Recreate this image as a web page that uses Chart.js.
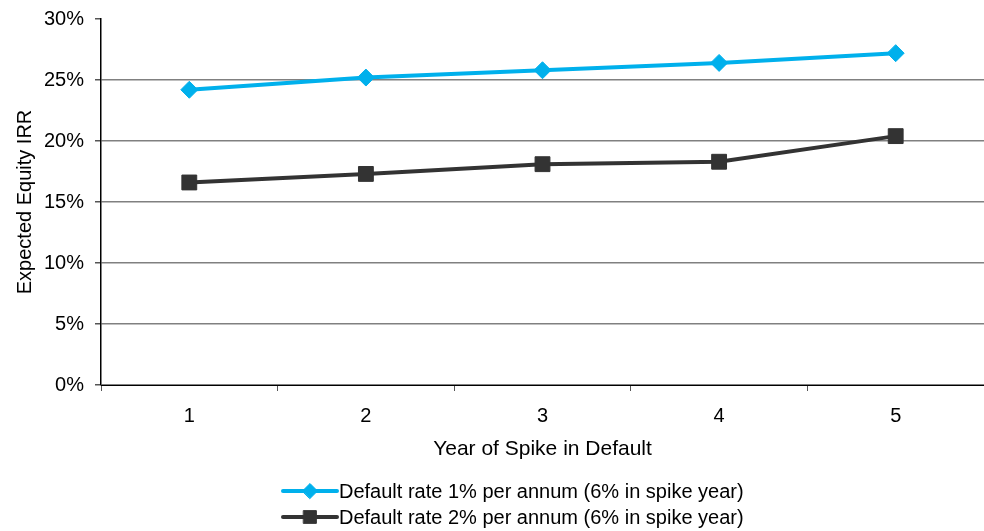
<!DOCTYPE html>
<html>
<head>
<meta charset="utf-8">
<script src="https://cdn.jsdelivr.net/npm/chart.js@4"></script>
<style>
  html, body { margin: 0; padding: 0; background: #fff; }
  #wrap { width: 984px; height: 531px; position: relative; }
</style>
</head>
<body>
<div id="wrap"><canvas id="c"></canvas></div>
<script>
// Year of the default spike
const categories = ['1', '2', '3', '4', '5'];
// Expected equity IRR (%)
const lowDefault = [24.2, 25.2, 25.8, 26.4, 27.2];
const highDefault = [16.6, 17.3, 18.1, 18.3, 20.4];
const seriesNames = [
  'Default rate 1% per annum (6% in spike year)',
  'Default rate 2% per annum (6% in spike year)'
];
const yTicks = [0, 5, 10, 15, 20, 25, 30];

const FONT = "'Liberation Sans', Arial, sans-serif";
const CYAN = '#00B0EC';
const DARK = '#333333';

// Two-row legend with line + marker swatches under the axis title
const lineLegend = {
  id: 'lineLegend',
  afterDraw(chart) {
    const ctx = chart.ctx;
    const left = 283, lineLen = 54, rowY = [491, 517];
    ctx.save();
    chart.data.datasets.forEach((ds, i) => {
      const y = rowY[i];
      ctx.strokeStyle = ds.borderColor;
      ctx.lineWidth = 4;
      ctx.lineCap = 'round';
      ctx.beginPath();
      ctx.moveTo(left, y);
      ctx.lineTo(left + lineLen, y);
      ctx.stroke();
      ctx.fillStyle = ds.pointBackgroundColor;
      ctx.strokeStyle = ds.pointBorderColor;
      ctx.lineWidth = 1;
      Chart.helpers.drawPoint(ctx, {
        pointStyle: ds.pointStyle,
        radius: ds.pointStyle === 'rect' ? 9 : 7.5,
        rotation: 0,
        borderWidth: 1
      }, left + lineLen / 2, y);
      ctx.fillStyle = '#000';
      ctx.font = '20px ' + FONT;
      ctx.textBaseline = 'middle';
      ctx.textAlign = 'left';
      ctx.fillText(ds.label, left + lineLen + 2, y + 1);
    });
    ctx.restore();
  }
};

new Chart(document.getElementById('c'), {
  type: 'line',
  data: {
    labels: categories,
    datasets: [
      {
        label: seriesNames[0],
        data: lowDefault,
        borderColor: CYAN,
        backgroundColor: CYAN,
        pointBackgroundColor: CYAN,
        pointBorderColor: CYAN,
        borderWidth: 4,
        pointStyle: 'rectRot',
        pointRadius: 8.5,
        pointBorderWidth: 1,
        tension: 0
      },
      {
        label: seriesNames[1],
        data: highDefault,
        borderColor: DARK,
        backgroundColor: DARK,
        pointBackgroundColor: DARK,
        pointBorderColor: DARK,
        borderWidth: 4,
        pointStyle: 'rect',
        pointRadius: 10.5,
        pointBorderWidth: 1,
        tension: 0
      }
    ]
  },
  options: {
    responsive: true,
    maintainAspectRatio: false,
    animation: false,
    layout: { autoPadding: false, padding: { left: 0, right: 0, top: 19, bottom: 69 } },
    plugins: {
      legend: { display: false },
      tooltip: { enabled: false }
    },
    scales: {
      x: {
        type: 'category',
        offset: true,
        grid: {
          offset: true,
          drawOnChartArea: false,
          drawTicks: true,
          tickLength: 6,
          color: '#000',
          tickColor: '#555'
        },
        border: { color: '#000', width: 1 },
        ticks: {
          color: '#000',
          padding: 13,
          font: { family: FONT, size: 20 }
        },
        title: {
          display: true,
          text: 'Year of Spike in Default',
          color: '#000',
          font: { family: FONT, size: 21 },
          padding: { top: 4, bottom: 0 }
        },
        afterFit(scale) {
          scale.height = 77;
          scale.paddingLeft = 0;
          scale.paddingRight = 0;
        }
      },
      y: {
        min: 0,
        max: 30,
        afterBuildTicks(scale) { scale.ticks = yTicks.map(v => ({ value: v })); },
        grid: {
          color: (c) => (c.tick && c.tick.value === 30 ? 'rgba(0,0,0,0)' : '#808080'),
          tickColor: '#555',
          lineWidth: 1.5,
          tickLength: 6
        },
        border: { color: '#000', width: 1.5 },
        ticks: {
          color: '#000',
          padding: 11,
          font: { family: FONT, size: 20 },
          callback: (v) => v + '%'
        },
        title: {
          display: true,
          text: 'Expected Equity IRR',
          color: '#000',
          font: { family: FONT, size: 20 },
          padding: { top: 13, bottom: 0 }
        },
        afterFit(scale) {
          scale.width = 101;
          scale.paddingTop = 0;
          scale.paddingBottom = 0;
        }
      }
    }
  },
  plugins: [lineLegend]
});
</script>
</body>
</html>
